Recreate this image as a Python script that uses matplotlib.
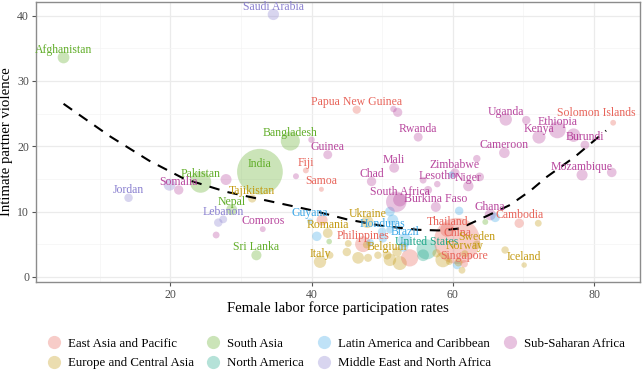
import matplotlib
matplotlib.use("Agg")
import matplotlib.pyplot as plt
from matplotlib.lines import Line2D
import numpy as np

plt.rcParams["font.family"] = ["Liberation Serif", "DejaVu Serif"]

# ---------- data ----------
countries = [
    "Afghanistan", "Saudi Arabia", "Papua New Guinea", "Rwanda", "Bangladesh",
    "Guinea", "Fiji", "Samoa", "India", "Pakistan", "Somalia", "Jordan",
    "Tajikistan", "Nepal", "Lebanon", "Comoros", "Sri Lanka", "Guyana",
    "Romania", "Ukraine", "Honduras", "Brazil", "Philippines", "Belgium",
    "Italy", "United States", "Thailand", "China", "Sweden", "Norway",
    "Singapore", "Iceland", "Cambodia", "Ghana", "Burkina Faso",
    "South Africa", "Lesotho", "Zimbabwe", "Niger", "Mali", "Chad",
    "Cameroon", "Uganda", "Ethiopia", "Kenya", "Burundi", "Solomon Islands",
    "Mozambique",
    "", "", "", "", "", "", "", "", "", "", "", "", "", "", "", "", "", "",
    "", "", "", "", "", "", "", "", "", "", "", "", "", "", "", "", "", "",
    "", "", "", "", "", "", "", "", "",
]
flfp = [
    4.9, 34.6, 46.4, 55.1, 37.0, 42.3, 39.2, 41.4, 32.7, 24.3, 21.2, 14.1,
    31.6, 28.7, 27.5, 33.1, 32.2, 39.8, 42.3, 47.9, 50.0, 53.2, 47.3, 50.7,
    41.2, 56.3, 59.2, 60.6, 63.4, 61.7, 61.6, 70.1, 69.4, 65.3, 57.6, 52.5,
    57.8, 60.3, 62.2, 51.7, 48.5, 67.3, 67.5, 74.8, 72.2, 78.7, 82.7, 78.3,
    52.2, 51.6, 40.0, 37.8, 27.9, 19.9, 26.8, 26.5, 70.4, 63.4, 59.8, 63.8,
    56.5, 55.8, 60.9, 66.0, 64.6, 72.1, 67.4, 51.1, 51.5, 42.5, 42.6, 40.75,
    41.5, 52.0, 77.1, 82.5, 45.0, 46.6, 48.0, 49.4, 51.1, 52.5, 53.9, 55.8,
    57.7, 58.6, 60.6, 60.8, 61.3, 45.2, 48.3, 50.1, 51.1, 53.0, 52.1, 47.8,
    59.5,
]
ipv = [
    33.6, 40.2, 25.6, 21.4, 20.8, 18.7, 16.3, 13.4, 16.1, 14.5, 13.3, 12.1,
    12.0, 10.3, 8.8, 7.3, 3.3, 8.5, 6.7, 8.4, 6.9, 5.6, 5.0, 3.3,
    2.3, 4.2, 7.2, 5.5, 4.9, 3.5, 2.0, 1.8, 8.2, 9.5, 10.7, 11.8,
    14.2, 15.9, 13.9, 16.7, 14.6, 19.0, 24.1, 22.5, 21.4, 20.2, 23.6, 15.6,
    25.2, 25.7, 21.0, 15.4, 14.9, 14.1, 8.3, 6.4, 24.0, 18.1, 15.6, 15.3,
    13.3, 14.8, 10.1, 9.1, 8.4, 8.2, 4.1, 10.0, 8.7, 5.4, 3.3, 6.2,
    8.7, 11.5, 21.7, 16.0, 3.8, 2.9, 2.9, 3.3, 2.6, 2.1, 2.9, 3.3,
    3.6, 2.6, 1.8, 2.2, 1.0, 5.1, 5.2, 5.9, 7.2, 4.6, 3.8, 4.9,
    2.3,
]
population = [
    38, 34, 9, 13, 165, 13, 0.9, 0.2, 1380, 220, 16, 10,
    9, 29, 7, 0.9, 22, 0.8, 19, 44, 10, 60, 100, 11,
    45, 190, 70, 1400, 10, 5, 6, 0.4, 16, 31, 21, 59,
    2, 15, 24, 20, 16, 26, 45, 115, 54, 12, 0.7, 31,
    15, 2, 2, 1, 30, 40, 10, 3, 10, 5, 3, 12,
    8, 3, 10, 17, 0.8, 3, 5, 18, 30, 0.5, 4, 17,
    30, 200, 60, 18, 10, 38, 8, 5, 47, 67, 126, 38,
    9, 83, 10, 8, 3, 3, 6, 11, 5, 20, 17, 5,
    2,
]
region = [
    "SA", "MENA", "EAP", "SSA", "SA", "SSA", "EAP", "EAP", "SA", "SA", "SSA", "MENA",
    "ECA", "SA", "MENA", "SSA", "SA", "LAC", "ECA", "ECA", "LAC", "LAC", "EAP", "ECA",
    "ECA", "NA", "EAP", "EAP", "ECA", "ECA", "EAP", "ECA", "EAP", "SSA", "SSA", "SSA",
    "SSA", "SSA", "SSA", "SSA", "SSA", "SSA", "SSA", "SSA", "SSA", "SSA", "EAP", "SSA",
    "SSA", "SSA", "SSA", "SSA", "SSA", "MENA", "MENA", "SSA", "SSA", "SSA", "LAC", "SSA",
    "SSA", "SSA", "LAC", "LAC", "SA", "ECA", "ECA", "LAC", "LAC", "SA", "ECA", "LAC",
    "EAP", "SSA", "SSA", "SSA", "ECA", "ECA", "ECA", "ECA", "ECA", "ECA", "EAP", "NA",
    "ECA", "ECA", "LAC", "ECA", "ECA", "ECA", "LAC", "LAC", "LAC", "LAC", "ECA", "ECA",
    "ECA",
]

# dashed trend curve
trend_x = [4.9, 11.5, 17.0, 22.0, 28.0, 34.0, 40.0, 45.0, 50.0, 55.0, 58.0,
           61.0, 64.6, 68.1, 71.0, 73.3, 77.3, 81.7]
trend_y = [26.5, 21.5, 17.8, 15.0, 13.0, 11.6, 10.2, 8.8, 7.8, 7.2, 7.1,
           7.4, 9.2, 11.0, 13.2, 15.3, 18.4, 22.4]

region_order = ["EAP", "ECA", "SA", "NA", "LAC", "MENA", "SSA"]
region_names = {
    "EAP": "East Asia and Pacific",
    "ECA": "Europe and Central Asia",
    "SA": "South Asia",
    "NA": "North America",
    "LAC": "Latin America and Caribbean",
    "MENA": "Middle East and North Africa",
    "SSA": "Sub-Saharan Africa",
}
region_colors = {
    "EAP": "#E8645A",
    "ECA": "#C39A10",
    "SA": "#62AE2A",
    "NA": "#20A88A",
    "LAC": "#3DA8E8",
    "MENA": "#8A80D0",
    "SSA": "#B8479E",
}

# labels that were pushed away from their point (data units)
label_shift = {"Solomon Islands": (-2.4, 1.45)}

DPI = 100
fig = plt.figure(figsize=(6.44, 3.75), dpi=DPI)
ax = fig.add_axes([36 / 644, 1 - 282 / 375, 604 / 644, 280 / 375])

# bubble size: diameter grows with sqrt of population (like ggplot area scale)
pop = np.array(population, dtype=float)
frac = np.sqrt((pop - pop.min()) / (pop.max() - pop.min()))
diam_px = 5 + 41 * frac
sizes = (diam_px * 72 / DPI) ** 2

cols = [region_colors[r] for r in region]
ax.scatter(flfp, ipv, s=sizes, c=cols, alpha=0.33, linewidths=0, zorder=2)

ax.plot(trend_x, trend_y, color="black", lw=1.5, dashes=(5, 4), zorder=3)

for name, x, y, r in zip(countries, flfp, ipv, region):
    if not name:
        continue
    dx, dy = label_shift.get(name, (0, 1.2))
    ax.text(x + dx, y + dy, name, color=region_colors[r], fontsize=8.5,
            ha="center", va="center", zorder=4)

ax.set_xlim(1.0, 86.5)
ax.set_ylim(-0.8, 42.1)
ax.set_xticks([20, 40, 60, 80])
ax.set_yticks([0, 10, 20, 30, 40])
ax.set_xticks([10, 30, 50, 70], minor=True)
ax.set_yticks([5, 15, 25, 35], minor=True)
ax.grid(which="major", color="#EBEBEB", lw=0.9, zorder=0)
ax.grid(which="minor", color="#F4F4F4", lw=0.5, zorder=0)
ax.set_axisbelow(True)
for sp in ax.spines.values():
    sp.set_color("#8C8C8C")
    sp.set_linewidth(1.0)
ax.tick_params(which="major", length=3, width=0.8, color="#555555",
               labelsize=8.5, labelcolor="#4D4D4D", pad=2)
ax.tick_params(which="minor", length=0)

ax.set_xlabel("Female labor force participation rates", fontsize=10.6, labelpad=0.5)
ax.set_ylabel("Intimate partner violence", fontsize=10.6, labelpad=3)

handles = [
    Line2D([], [], marker="o", ls="", markersize=9.5, markeredgewidth=0,
           markerfacecolor=region_colors[k], alpha=0.33)
    for k in region_order
]
labels = [region_names[k] for k in region_order]
leg = fig.legend(handles, labels, ncol=4, loc="center",
                 bbox_to_anchor=(0.522, 1 - 353.5 / 375), frameon=False,
                 fontsize=9.3, handletextpad=0.6, columnspacing=1.0,
                 labelspacing=0.6, handlelength=1.0, borderpad=0.2)

fig.savefig("out.png", dpi=DPI)
